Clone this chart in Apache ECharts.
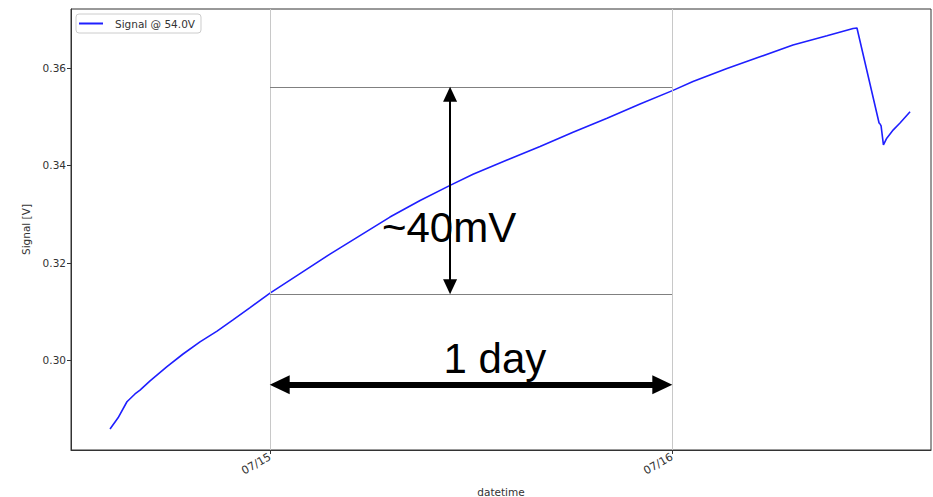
<!DOCTYPE html>
<html>
<head>
<meta charset="utf-8">
<script src="https://cdn.jsdelivr.net/npm/echarts@6/dist/echarts.min.js"></script>
<style>
  html, body { margin: 0; padding: 0; background: #fff; }
  #chart { width: 933px; height: 497px; }
</style>
</head>
<body>
<div id="chart"></div>
<script>
// hours from 07/15 00:00 and signal [V]
var hours = [-9.55, -9.07, -8.54, -8.06, -7.76, -7.16, -6.15, -5.19, -4.18, -3.16, -2.21, -1.19,
  0, 1.79, 3.58, 5.37, 7.16, 8.96, 10.75, 12.12, 14.15, 16.12, 18.09, 20.12, 22.09, 24.06,
  25.25, 27.28, 29.25, 31.22, 33.25, 34.81, 35.04, 36.36, 36.42, 36.48, 36.62, 36.82, 37.21, 37.61, 38.21];
var signal = [0.2859, 0.2882, 0.2915, 0.2931, 0.2939, 0.2958, 0.2987, 0.3013, 0.3038, 0.3060, 0.3083, 0.3108,
  0.3138, 0.3178, 0.3218, 0.3256, 0.3294, 0.3328, 0.3359, 0.3382, 0.3411, 0.3439, 0.3468, 0.3497, 0.3526, 0.3554,
  0.3572, 0.3599, 0.3623, 0.3647, 0.3666, 0.3681, 0.3682, 0.3487, 0.3485, 0.3481, 0.3442, 0.3456, 0.3473, 0.3487, 0.3510];
var yTicks = [0.30, 0.32, 0.34, 0.36];
var dayTicks = [0, 24];          // 07/15 and 07/16, in hours
var startDate = [2019, 6, 15];   // 07/15

// annotation levels
var levelLow = 0.3136, levelHigh = 0.3561;
var arrowHour = 10.75, dayArrowLevel = 0.2950;
// arrow heads are centred on the line ends, pull the ends in by half a head
var vInset = 0.0015, hInset = 0.58;

var HOUR = 3600 * 1000;
var base = new Date(startDate[0], startDate[1], startDate[2]).getTime();
var seriesData = hours.map(function(h, i) { return [h, signal[i]]; });

function pad(n) { return (n < 10 ? '0' : '') + n; }

var chart = echarts.init(document.getElementById('chart'), null, { renderer: 'svg' });
var font = 'DejaVu Sans';
var bigFont = 'Liberation Sans';

chart.setOption({
  animation: false,
  textStyle: { fontFamily: font },
  grid: {
    left: 71, right: 2, top: 9, bottom: 47,
    outerBoundsMode: 'none',
    show: true, borderColor: '#333', borderWidth: 1
  },
  legend: {
    left: 76, top: 14,
    data: [{ name: 'Signal @ 54.0V', icon: 'rect' }],
    itemWidth: 24, itemHeight: 2,
    padding: [4, 6, 4, 3],
    borderColor: '#ccc', borderWidth: 1, borderRadius: 3,
    textStyle: { color: '#333', fontSize: 10.5, fontFamily: font, padding: [0, 0, 0, 7] }
  },
  xAxis: {
    type: 'value',
    min: -11.88,
    max: 39.46,
    name: 'datetime',
    nameLocation: 'middle',
    nameGap: 36,
    nameTextStyle: { color: '#333', fontSize: 10.5, fontFamily: font },
    axisLine: { onZero: false, lineStyle: { color: '#333' } },
    axisTick: { show: true, length: 4, customValues: dayTicks, lineStyle: { color: '#333' } },
    axisLabel: {
      customValues: dayTicks,
      rotate: 30,
      margin: 6,
      color: '#333',
      fontSize: 11,
      fontFamily: font,
      formatter: function(v) {
        var d = new Date(base + v * HOUR);
        return pad(d.getMonth() + 1) + '/' + pad(d.getDate());
      }
    },
    splitLine: { show: false }
  },
  yAxis: {
    type: 'value',
    min: 0.2816,
    max: 0.3721,
    name: 'Signal [V]',
    nameLocation: 'middle',
    nameGap: 40,
    nameTextStyle: { color: '#333', fontSize: 10.5, fontFamily: font },
    axisLine: { show: true, onZero: false, lineStyle: { color: '#333' } },
    axisTick: { show: true, length: 4, customValues: yTicks, lineStyle: { color: '#333' } },
    axisLabel: {
      customValues: yTicks,
      margin: 5,
      color: '#333',
      fontSize: 10.5,
      fontFamily: font,
      formatter: function(v) { return v.toFixed(2); }
    },
    splitLine: { show: false }
  },
  series: [
    {
      // grid lines and annotations
      name: 'notes',
      type: 'line',
      data: [],
      silent: true,
      markLine: {
        silent: true,
        symbol: 'none',
        label: { show: false },
        emphasis: { disabled: true },
        data: [
          { xAxis: dayTicks[0], lineStyle: { color: '#c8c8c8', width: 1, type: 'solid' } },
          { xAxis: dayTicks[1], lineStyle: { color: '#c8c8c8', width: 1, type: 'solid' } },
          [{ coord: [dayTicks[0], levelHigh], lineStyle: { color: '#808080', width: 1, type: 'solid' } },
           { coord: [dayTicks[1], levelHigh] }],
          [{ coord: [dayTicks[0], levelLow], lineStyle: { color: '#808080', width: 1, type: 'solid' } },
           { coord: [dayTicks[1], levelLow] }],
          [{ coord: [arrowHour, levelLow + vInset], symbol: 'triangle', symbolSize: [14, 15],
             lineStyle: { color: '#000', width: 2, type: 'solid' } },
           { coord: [arrowHour, levelHigh - vInset], symbol: 'triangle', symbolSize: [14, 15] }],
          [{ coord: [dayTicks[0] + hInset, dayArrowLevel], symbol: 'triangle', symbolSize: [19, 20],
             lineStyle: { color: '#000', width: 6, type: 'solid' } },
           { coord: [dayTicks[1] - hInset, dayArrowLevel], symbol: 'triangle', symbolSize: [19, 20] }]
        ]
      },
      markPoint: {
        silent: true,
        symbolSize: 0,
        data: [
          { coord: [10.69, 0.3272], label: { show: true, position: 'inside', formatter: '~40mV',
            color: '#000', fontSize: 42, fontFamily: bigFont } },
          { coord: [13.43, 0.3003], label: { show: true, position: 'inside', formatter: '1 day',
            color: '#000', fontSize: 42, fontFamily: bigFont } }
        ]
      }
    },
    {
      name: 'Signal @ 54.0V',
      type: 'line',
      data: seriesData,
      showSymbol: false,
      symbol: 'none',
      color: '#1f1fff',
      lineStyle: { color: '#1f1fff', width: 1.6 },
      z: 3
    }
  ]
});
window.addEventListener('resize', function() { chart.resize(); });
</script>
</body>
</html>
